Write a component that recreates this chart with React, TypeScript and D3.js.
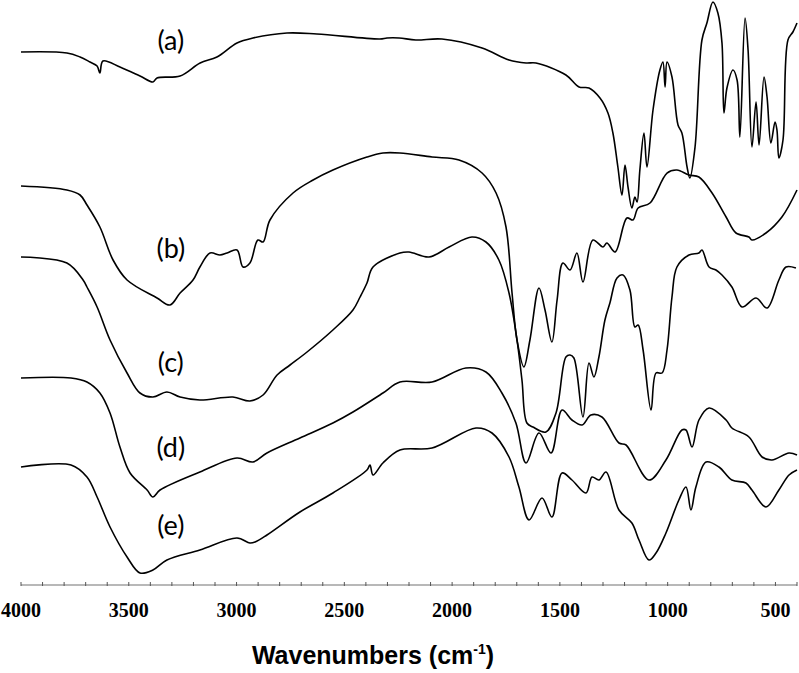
import React from 'react';
import * as d3 from 'd3';

// FTIR spectra, wavenumber (cm-1) vs. offset transmittance (a.u.)
const specA: [number, number][] = [
  [4000, 548], [3787, 547], [3726, 543], [3680, 538], [3647, 534], [3634, 527], [3620, 539],
  [3541, 533], [3448, 524], [3388, 518], [3369, 522], [3262, 524], [3169, 537], [3091, 543],
  [2998, 557], [2924, 562], [2766, 567], [2627, 566], [2335, 561], [2302, 562], [2246, 562],
  [2168, 560], [2047, 561], [1861, 552], [1736, 540], [1657, 537], [1611, 537], [1472, 525],
  [1411, 513], [1365, 512], [1314, 502], [1277, 487], [1254, 467], [1231, 433], [1212, 405],
  [1198, 435], [1184, 413], [1166, 392], [1152, 403], [1142, 398], [1129, 430], [1110, 467],
  [1096, 433], [1068, 490], [1036, 530], [1022, 538], [1012, 513], [1003, 538], [980, 523],
  [952, 475], [934, 467], [910, 433], [897, 422], [873, 453], [841, 560], [818, 577],
  [790, 598], [767, 587], [748, 557], [739, 487], [725, 512], [697, 530], [678, 520],
  [665, 463], [641, 582], [627, 550], [609, 453], [590, 498], [576, 455], [553, 523],
  [539, 503], [521, 457], [502, 478], [493, 470], [484, 442], [465, 460], [442, 560],
  [419, 568], [400, 577],
];

const specB: [number, number][] = [
  [4000, 414], [3787, 410], [3726, 405], [3694, 395], [3634, 373], [3573, 340], [3508, 320],
  [3369, 302], [3309, 295], [3262, 307], [3202, 320], [3170, 333], [3123, 347], [3077, 345],
  [3044, 347], [2998, 350], [2970, 333], [2938, 337], [2901, 360], [2877, 358], [2845, 380],
  [2738, 407], [2645, 420], [2553, 430], [2395, 443], [2321, 447], [2242, 447], [2093, 443],
  [1968, 440], [1861, 427], [1796, 407], [1750, 373], [1722, 307], [1699, 260], [1667, 233],
  [1639, 260], [1597, 312], [1569, 290], [1537, 258], [1513, 300], [1486, 337], [1453, 330],
  [1421, 347], [1393, 318], [1347, 360], [1300, 353], [1282, 357], [1244, 348], [1189, 382],
  [1161, 380], [1137, 392], [1082, 397], [1003, 427], [957, 430], [901, 425], [855, 423],
  [794, 407], [729, 383], [683, 367], [623, 363], [609, 360], [544, 367], [470, 383],
  [400, 410],
];

const specC: [number, number][] = [
  [4000, 343], [3787, 337], [3712, 320], [3694, 313], [3647, 293], [3587, 260], [3508, 227],
  [3448, 207], [3388, 203], [3323, 208], [3262, 203], [3170, 200], [3017, 203], [2938, 199],
  [2877, 205], [2812, 225], [2752, 235], [2673, 248], [2553, 270], [2460, 290], [2427, 303],
  [2395, 317], [2367, 333], [2242, 347], [2200, 348], [2107, 343], [2014, 353], [1908, 363],
  [1843, 358], [1783, 340], [1736, 307], [1699, 260], [1676, 220], [1653, 177], [1625, 173],
  [1565, 168], [1518, 187], [1472, 243], [1453, 245], [1435, 242], [1393, 183], [1365, 237],
  [1342, 223], [1319, 243], [1291, 280], [1268, 297], [1235, 322], [1207, 325], [1175, 310],
  [1152, 273], [1137, 275], [1114, 250], [1077, 190], [1054, 227], [1026, 227], [1003, 250],
  [980, 303], [957, 333], [901, 345], [855, 347], [841, 350], [808, 333], [776, 330],
  [748, 325], [702, 313], [655, 293], [590, 302], [539, 292], [484, 320], [451, 333],
  [405, 332],
];

const specD: [number, number][] = [
  [4000, 222], [3768, 222], [3694, 218], [3634, 207], [3587, 187], [3541, 153], [3494, 127],
  [3415, 110], [3388, 103], [3355, 110], [3170, 128], [2998, 142], [2924, 138], [2859, 147],
  [2706, 162], [2553, 177], [2460, 188], [2321, 207], [2242, 218], [2093, 218], [1936, 232],
  [1843, 228], [1769, 207], [1704, 177], [1657, 137], [1597, 167], [1541, 147], [1490, 190],
  [1444, 180], [1397, 175], [1356, 185], [1305, 183], [1226, 157], [1193, 155], [1087, 120],
  [1008, 140], [934, 170], [915, 170], [887, 153], [855, 180], [808, 192], [729, 180],
  [702, 172], [623, 163], [562, 143], [516, 140], [437, 147], [400, 145],
];

const specE: [number, number][] = [
  [4000, 133], [3768, 135], [3694, 123], [3647, 103], [3587, 73], [3508, 43], [3448, 27],
  [3388, 30], [3323, 40], [3170, 50], [2998, 62], [2938, 57], [2914, 58], [2859, 65],
  [2706, 88], [2553, 107], [2395, 130], [2381, 135], [2367, 125], [2321, 137], [2242, 150],
  [2093, 152], [1889, 172], [1815, 167], [1736, 143], [1690, 113], [1643, 80], [1583, 102],
  [1537, 83], [1490, 127], [1444, 120], [1379, 107], [1351, 123], [1319, 120], [1286, 128],
  [1226, 90], [1166, 77], [1133, 60], [1087, 40], [1054, 47], [1008, 67], [948, 100],
  [915, 113], [892, 90], [869, 113], [822, 138], [762, 133], [702, 120], [637, 117],
  [609, 110], [544, 93], [484, 110], [437, 125], [400, 130],
];

const spectra = [specA, specB, specC, specD, specE];

const sampleLabels = ['(a)', '(b)', '(c)', '(d)', '(e)'];
const labelLevel = [550, 342, 228, 143, 65];
const labelWavenumber = 3305;

const tickLabels = [4000, 3500, 3000, 2500, 2000, 1500, 1000, 500];

const Width = 799;
const Height = 673;
const axisY = 585;

const App = () => {
  const xScale = d3.scaleLinear().domain([4000, 400]).range([21, 797]);
  const yScale = d3.scaleLinear().domain([0, 600]).range([600, 0]);

  const line = d3
    .line<[number, number]>()
    .x((d) => xScale(d[0]))
    .y((d) => yScale(d[1]))
    .curve(d3.curveCatmullRom.alpha(0.5));

  const minorTicks = d3.range(4000, 399, -100);

  return (
    <svg
      width={Width}
      height={Height}
      style={{ position: 'absolute', left: 0, top: 0, background: '#fff' }}
    >
      {spectra.map((s, i) => (
        <path key={i} d={line(s) || ''} fill="none" stroke="#000" strokeWidth={1.6} strokeLinejoin="round" />
      ))}

      {sampleLabels.map((t, i) => (
        <text
          key={t}
          x={xScale(labelWavenumber)}
          y={yScale(labelLevel[i])}
          textAnchor="middle"
          style={{ fontFamily: 'Lato, "Open Sans", sans-serif', fontSize: '27px' }}
        >
          {t}
        </text>
      ))}

      {/* x axis */}
      <line x1={xScale(4000)} x2={xScale(400)} y1={axisY} y2={axisY} stroke="#b8b8b8" strokeWidth={2} />
      {minorTicks.map((w) => (
        <line key={w} x1={xScale(w)} x2={xScale(w)} y1={axisY - 3} y2={axisY + 1} stroke="#555" strokeWidth={1} />
      ))}
      {tickLabels.map((w) => (
        <text
          key={w}
          x={xScale(w)}
          y={617}
          textAnchor="middle"
          style={{ fontFamily: '"Liberation Serif", "Times New Roman", serif', fontWeight: 'bold', fontSize: '20px' }}
        >
          {w}
        </text>
      ))}
      <text
        x={373}
        y={664}
        textAnchor="middle"
        style={{ fontFamily: '"Liberation Sans", Arial, sans-serif', fontWeight: 'bold', fontSize: '25px' }}
      >
        Wavenumbers (cm
        <tspan dy={-10} style={{ fontSize: '14px' }}>-1</tspan>
        <tspan dy={10}>)</tspan>
      </text>
    </svg>
  );
};

export default App;
